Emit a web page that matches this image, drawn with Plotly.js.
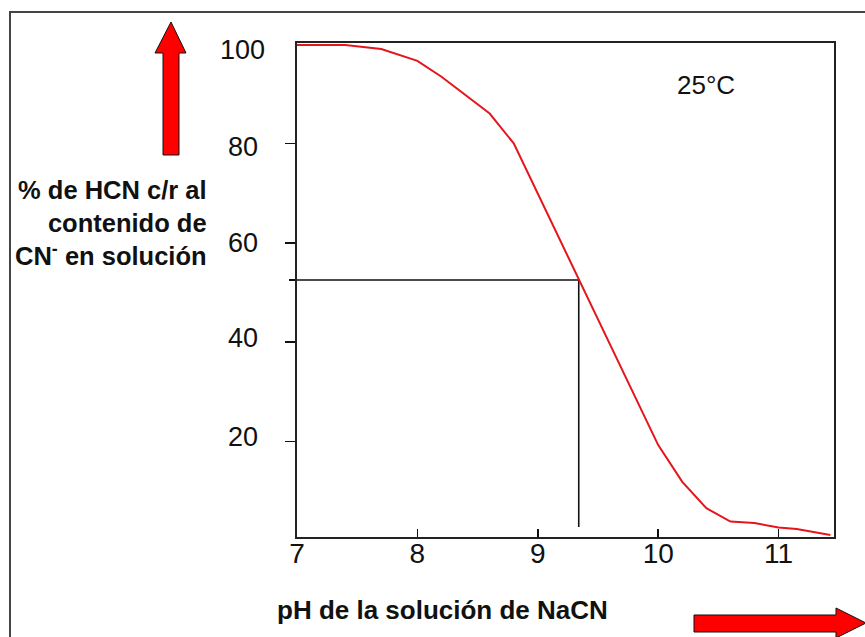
<!DOCTYPE html>
<html>
<head>
<meta charset="utf-8">
<script src="https://cdn.plot.ly/plotly-3.0.1.min.js"></script>
<style>html,body{margin:0;padding:0;background:#fff;}#chart{width:865px;height:637px;}</style>
</head>
<body>
<div id="chart"></div>
<script>
// Data
var phValues = [7.0, 7.4, 7.7, 8.0, 8.2, 8.4, 8.6, 8.8, 10.0, 10.2, 10.4, 10.6, 10.8, 11.0, 11.15, 11.43];
var hcnPercent = [99.8, 99.8, 99.0, 96.6, 93.4, 89.7, 86.0, 80.0, 19.3, 11.9, 6.6, 3.9, 3.6, 2.7, 2.4, 1.2];
var refX = [7.0, 9.34, 9.34];
var refY = [52.5, 52.5, 2.8];
var xTickVals = [7, 8, 9, 10, 11];
var xTickText = ['7', '8', '9', '10', '11'];
var yTickVals = [20, 40, 60, 80];
var yLabelVals = [100, 80, 60, 40, 20];
var yLabelText = ['100', '80', '60', '40', '20'];
var yTitleText = '% de HCN c/r al<br>contenido de<br>CN<sup>-</sup> en solución';
var xTitleText = 'pH de la solución de NaCN';
var tempText = '25°C';

var W = 865, H = 637;
var M = {l: 297, r: 31, t: 43, b: 100};
var PW = W - M.l - M.r, PH = H - M.t - M.b;
function px2x(px) { return (px - M.l) / PW; }
function py2y(py) { return (H - M.b - py) / PH; }
function pathFrom(pts) {
  return 'M' + pts.map(function (p) { return px2x(p[0]).toFixed(5) + ',' + py2y(p[1]).toFixed(5); }).join('L') + 'Z';
}

var FONT = 'Liberation Sans, Arial, sans-serif';
// small vertical offsets of the y labels, as placed in the reference
var yLabelShift = [-6, -4, 0, 4, 5];

var traces = [
  {x: refX, y: refY, mode: 'lines', line: {color: '#111', width: 1.6}, hoverinfo: 'skip', showlegend: false},
  {x: phValues, y: hcnPercent, mode: 'lines', line: {color: '#e5161b', width: 2}, showlegend: false}
];

var annotations = yLabelVals.map(function (v, i) {
  return {xref: 'paper', yref: 'y', x: px2x(242.5), y: v, yshift: yLabelShift[i], text: yLabelText[i], showarrow: false,
          xanchor: 'center', yanchor: 'middle', font: {family: FONT, size: 27, color: '#111'}};
});
annotations.push({xref: 'paper', yref: 'paper', x: px2x(209), y: py2y(223), text: yTitleText, showarrow: false,
  xanchor: 'right', yanchor: 'middle', align: 'right', font: {family: FONT, size: 25.5, color: '#111', weight: 'bold'}});
annotations.push({xref: 'paper', yref: 'paper', x: px2x(442), y: py2y(610), text: xTitleText, showarrow: false,
  xanchor: 'center', yanchor: 'middle', font: {family: FONT, size: 26, color: '#111', weight: 'bold'}});
annotations.push({xref: 'paper', yref: 'paper', x: px2x(706), y: py2y(85), text: tempText, showarrow: false,
  xanchor: 'center', yanchor: 'middle', font: {family: FONT, size: 26, color: '#111'}});

var shapes = [
  {type: 'rect', xref: 'paper', yref: 'paper', x0: px2x(10), x1: px2x(868), y0: py2y(12), y1: py2y(642),
   line: {color: '#444', width: 2}, fillcolor: 'rgba(0,0,0,0)', layer: 'below'},
  {type: 'path', xref: 'paper', yref: 'paper', fillcolor: '#ff0000', line: {color: '#111', width: 1},
   path: pathFrom([[163,155],[179,155],[179,53],[186,53],[171,22],[155,53],[163,53]])},
  {type: 'path', xref: 'paper', yref: 'paper', fillcolor: '#ff0000', line: {color: '#111', width: 1},
   path: pathFrom([[694,615],[836,615],[836,608],[866,623],[836,638],[836,632],[694,632]])}
];

var layout = {
  width: W, height: H,
  margin: M,
  paper_bgcolor: '#fff', plot_bgcolor: '#fff',
  showlegend: false,
  font: {family: FONT, color: '#111'},
  xaxis: {range: [7, 11.46], tickvals: xTickVals, ticktext: xTickText, ticks: 'inside', ticklen: 8, tickwidth: 1.5,
          tickcolor: '#111', showgrid: false, zeroline: false, showline: true, linecolor: '#222', linewidth: 2,
          mirror: true, ticklabelstandoff: -10, tickfont: {family: FONT, size: 28, color: '#111'}},
  yaxis: {range: [0.8, 100.2], tickvals: yTickVals, ticks: 'outside', ticklen: 10, tickwidth: 1.5, tickcolor: '#111',
          showticklabels: false, showgrid: false, zeroline: false, showline: true, linecolor: '#222', linewidth: 2,
          mirror: true,
          minor: {tickmode: 'array', tickvals: [refY[0]], ticks: 'outside', ticklen: 6, tickwidth: 1.5, tickcolor: '#111', showgrid: false}},
  annotations: annotations,
  shapes: shapes
};

Plotly.newPlot('chart', traces, layout, {displayModeBar: false, staticPlot: true});
</script>
</body>
</html>
